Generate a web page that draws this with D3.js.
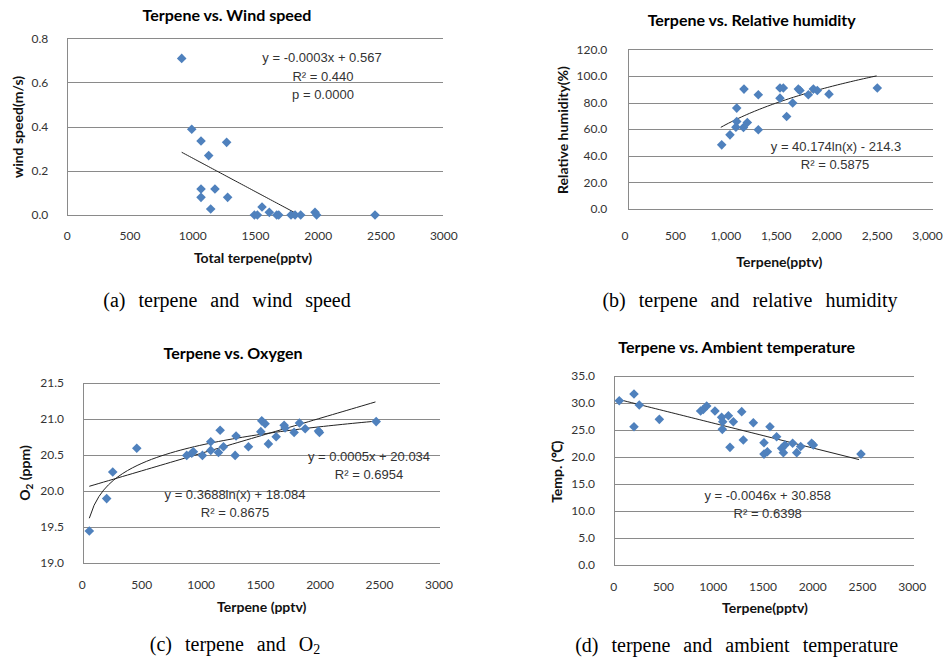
<!DOCTYPE html>
<html>
<head>
<meta charset="utf-8">
<script src="https://cdn.jsdelivr.net/npm/d3@7"></script>
<style>
body{margin:0;background:#fff;}
text{font-family:Lato,"Open Sans",sans-serif;fill:#222;}
.title{font-weight:bold;font-size:16px;fill:#000;}
.alabel{font-weight:bold;font-size:14px;fill:#111;}
.tick text{font-family:Lato,"Open Sans",sans-serif;font-size:12px;fill:#333;}
.eq{font-family:"Liberation Sans",Arial,sans-serif;font-size:13px;fill:#333;}
.cap{font-family:"Liberation Serif","Times New Roman",serif;font-size:20px;fill:#000;word-spacing:8px;}
</style>
</head>
<body>
<script>
var width=949,height=658;
var xTicks=[0,500,1000,1500,2000,2500,3000];
var windTicks=[0,0.2,0.4,0.6,0.8],
    rhTicks=[0,20,40,60,80,100,120],
    o2Ticks=[19.0,19.5,20.0,20.5,21.0,21.5],
    tempTicks=[0,5,10,15,20,25,30,35];

// (a) wind speed
var windX=[916,996,1070,1274,1131,1070,1181,1070,1282,1147,1495,1519,1556,1614,1673,1689,1787,1819,1864,1978,1991,2456];
var windY=[0.709,0.388,0.335,0.329,0.269,0.118,0.118,0.080,0.080,0.027,0,0,0.036,0.012,0,0,0,0,0,0.012,0,0];
// (b) relative humidity
var rhX=[964,1046,1113,1113,1105,1185,1180,1218,1327,1327,1542,1575,1542,1608,1668,1724,1740,1823,1873,1912,2028,2507];
var rhY=[48.2,55.7,75.8,65.8,61.5,90.1,61.2,65,85.8,59.5,90.9,90.9,83.3,69.5,79.6,90.1,89.1,85.8,90.1,89.1,86.3,90.9];
// (c) oxygen
var o2X=[64,210,261,463,883,925,939,1015,1085,1085,1150,1164,1192,1290,1298,1402,1506,1514,1542,1570,1635,1702,1710,1786,1831,1879,1991,1999,2476];
var o2Y=[19.44,19.89,20.26,20.59,20.49,20.52,20.54,20.49,20.68,20.56,20.53,20.84,20.61,20.49,20.76,20.61,20.82,20.97,20.93,20.65,20.75,20.91,20.87,20.81,20.94,20.86,20.83,20.81,20.96];
// (d) temperature
var tempX=[60,208,208,261,463,878,905,939,1022,1089,1100,1096,1157,1173,1207,1291,1307,1408,1515,1515,1549,1575,1642,1693,1710,1726,1803,1844,1884,1994,2011,2490];
var tempY=[30.38,31.61,25.57,29.58,26.93,28.47,28.78,29.39,28.47,27.3,26.5,25.08,27.6,21.75,26.5,28.35,23.1,26.3,22.6,20.5,20.95,25.57,23.7,21.57,20.77,22.18,22.5,20.77,21.9,22.5,22.2,20.5];

// trendlines: [type, a, b, xStart, xEnd]
var windFit=[["lin",-0.0003035,0.562,916,1840]];
var rhFit=[["log",40.174,-214.3,955,2500]];
var o2Fit=[["lin",0.000487,20.03,64,2470],["log",0.3688,18.084,64,2476]];
var tempFit=[["lin",-0.0046,30.858,60,2470]];

var svg=d3.select("body").append("svg")
          .attr("width",width)
          .attr("height",height);

function fitValue(f,x){
    if(f[0]=="log")return f[1]*Math.log(x)+f[2];
    return f[1]*x+f[2];
}

// text made of pieces, some of them subscript
function addPieces(t,pieces,subSize,shift){
    pieces.forEach(function(s){
        var sp=t.append("tspan").text(s[0]);
        if(s[1])sp.attr("dy",shift).attr("font-size",subSize);
        else if(t.attr("data-down")=="1")sp.attr("dy",-shift);
        t.attr("data-down",s[1]?"1":"0");
    });
}

function drawPanel(p){
    var x=d3.scaleLinear().domain([0,3000]).range(p.xr),
        y=d3.scaleLinear().domain([p.yTicks[0],p.yTicks[p.yTicks.length-1]]).range(p.yr),
        g=svg.append("g");

    // grid lines
    g.selectAll("line.grid")
     .data(p.yTicks)
     .enter()
     .append("line")
     .attr("x1",p.gx[0]).attr("x2",p.gx[1])
     .attr("y1",function(d){return Math.round(y(d))+0.5;})
     .attr("y2",function(d){return Math.round(y(d))+0.5;})
     .attr("stroke","#8a8a8a")
     .attr("shape-rendering","crispEdges");
    g.append("line")
     .attr("x1",Math.round(p.gx[0])+0.5).attr("x2",Math.round(p.gx[0])+0.5)
     .attr("y1",y(p.yTicks[p.yTicks.length-1])).attr("y2",y(p.yTicks[0]))
     .attr("stroke","#8a8a8a")
     .attr("shape-rendering","crispEdges");

    // axes (labels only)
    var xa=g.append("g")
     .attr("transform","translate(0,"+p.yr[0]+")")
     .call(d3.axisBottom(x).tickValues(xTicks).tickSize(0).tickPadding(p.xPad).tickFormat(d3.format(p.xFmt)));
    xa.select(".domain").remove();
    var ya=g.append("g")
     .attr("transform","translate("+p.gx[0]+",0)")
     .call(d3.axisLeft(y).tickValues(p.yTicks).tickSize(0).tickPadding(p.yPad).tickFormat(d3.format(".1f")));
    ya.select(".domain").remove();

    // trendlines
    var line=d3.line().x(function(d){return x(d[0]);}).y(function(d){return y(d[1]);});
    p.fits.forEach(function(f){
        var pts=d3.range(0,61).map(function(i){
            var xv=f[3]+(f[4]-f[3])*i/60;
            return [xv,fitValue(f,xv)];
        });
        g.append("path")
         .attr("d",line(pts))
         .attr("fill","none")
         .attr("stroke","#222")
         .attr("stroke-width",1);
    });

    // points
    g.selectAll("path.pt")
     .data(p.xs)
     .enter()
     .append("path")
     .attr("d",d3.symbol().type(d3.symbolSquare).size(46))
     .attr("transform",function(d,i){return "translate("+x(d)+","+y(p.ys[i])+") rotate(45)";})
     .attr("fill","#4f81bd");

    // texts
    g.append("text").attr("class","title")
     .attr("x",p.title[1]).attr("y",p.title[2])
     .attr("text-anchor","middle").text(p.title[0]);
    g.append("text").attr("class","alabel")
     .attr("x",p.xLab[1]).attr("y",p.xLab[2])
     .attr("text-anchor","middle").text(p.xLab[0]);
    var yl=g.append("text").attr("class","alabel")
     .attr("transform","translate("+(p.yLab[1]+5)+","+p.yLab[2]+") rotate(-90)")
     .attr("text-anchor","middle");
    addPieces(yl,p.yLab[0],"10px",3);
    p.eqs.forEach(function(e){
        g.append("text").attr("class","eq")
         .attr("x",e[1]).attr("y",e[2])
         .attr("text-anchor","middle")
         .attr("dominant-baseline","central")
         .text(e[0]);
    });
    var cap=g.append("text").attr("class","cap")
     .attr("x",p.cap[1]).attr("y",p.cap[2])
     .attr("text-anchor","middle");
    addPieces(cap,p.cap[0],"14px",3);
}

drawPanel({xs:windX,ys:windY,yTicks:windTicks,fits:windFit,
    xr:[66.7,443.3],yr:[215,38.3],gx:[66.7,443.3],xPad:16.5,yPad:18.5,xFmt:"d",
    title:["Terpene vs. Wind speed",227,20.7],
    xLab:["Total terpene(pptv)",253,262.7],
    yLab:[[["wind speed(m/s)"]],18,127],
    eqs:[["y = -0.0003x  + 0.567",322,57],["R\u00b2 = 0.440",323,76],["p = 0.0000",323,94]],
    cap:[[["(a)  terpene  and  wind  speed"]],227,307]});

drawPanel({xs:rhX,ys:rhY,yTicks:rhTicks,fits:rhFit,
    xr:[624.5,927],yr:[209,49.3],gx:[627.7,933.3],xPad:22.5,yPad:20.4,xFmt:",",
    title:["Terpene vs. Relative humidity",751.7,26],
    xLab:["Terpene(pptv)",779.3,266.7],
    yLab:[[["Relative humidity(%)"]],562.7,130],
    eqs:[["y = 40.174ln(x) - 214.3",836,146.7],["R\u00b2 = 0.5875",835,164.3]],
    cap:[[["(b)  terpene  and  relative  humidity"]],750,306.7]});

drawPanel({xs:o2X,ys:o2Y,yTicks:o2Ticks,fits:o2Fit,
    xr:[81.7,438.5],yr:[562.7,382.7],gx:[83.3,440],xPad:18,yPad:19.3,xFmt:"d",
    title:["Terpene vs. Oxygen",233,359.3],
    xLab:["Terpene (pptv)",261.7,611.7],
    yLab:[[["O"],["2",true],[" (ppm)"]],25,473],
    eqs:[["y = 0.0005x + 20.034",369,456],["R\u00b2 = 0.6954",369,474.3],
         ["y = 0.3688ln(x) + 18.084",235,494],["R\u00b2 = 0.8675",235,512]],
    cap:[[["(c)  terpene  and  O"],["2",true]],235,650.5]});

drawPanel({xs:tempX,ys:tempY,yTicks:tempTicks,fits:tempFit,
    xr:[613.3,911.7],yr:[565,375.7],gx:[614.3,914.3],xPad:17.5,yPad:19.3,xFmt:"d",
    title:["Terpene vs. Ambient temperature",736.7,352.7],
    xLab:["Terpene(pptv)",765,613.3],
    yLab:[[["Temp. (\u2103)"]],557.3,471.7],
    eqs:[["y = -0.0046x + 30.858",767.7,495],["R\u00b2 = 0.6398",767.7,513.3]],
    cap:[[["(d)  terpene  and  ambient  temperature"]],736.7,651.5]});
</script>
</body>
</html>
